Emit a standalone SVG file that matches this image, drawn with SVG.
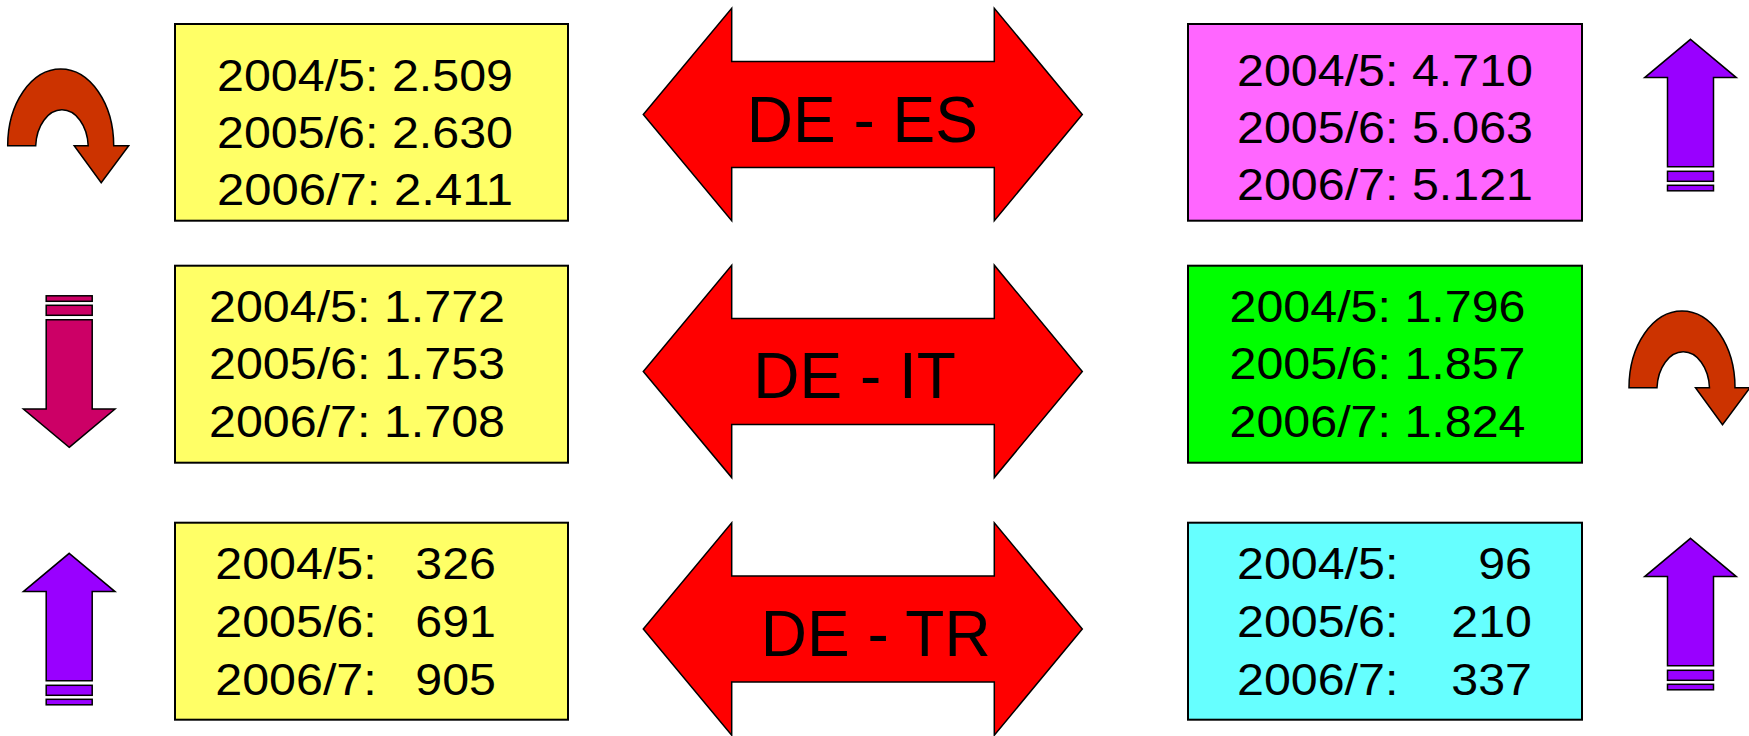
<svg xmlns="http://www.w3.org/2000/svg" xmlns:xlink="http://www.w3.org/1999/xlink" width="1749" height="736" viewBox="0 0 1749 736">
<style>
.box{stroke:#000;stroke-width:2}
.t{font-family:"Liberation Sans",Arial,sans-serif;font-size:45px;fill:#000}
.lbl{font-family:"Liberation Sans",Arial,sans-serif;font-size:64px;fill:#000}
.dbl{fill:#FF0000;stroke:#000;stroke-width:1.5;stroke-linejoin:miter}
.up{fill:#9900FF;stroke:#000;stroke-width:1.5}
.down{fill:#CC0066;stroke:#000;stroke-width:1.5}
.uturn{fill:#CC3300;stroke:#000;stroke-width:1.5}
</style>
<defs>
<path id="dblArrow" d="M0,0 L88.4,-106.2 L88.4,-53 L351,-53 L351,-106.2 L439,0 L351,106.2 L351,53 L88.4,53 L88.4,106.2 Z"/>
<g id="arrowUp">
<path d="M0,0 L45.8,38.3 L23,38.3 L23,127.5 L-23,127.5 L-23,38.3 L-45.8,38.3 Z"/>
<rect x="-23" y="132" width="46" height="10"/>
<rect x="-23" y="146" width="46" height="5.5"/>
</g>
<path id="uTurn" d="M0,0 A53,76.7 0 0 1 106,0 L121,0 L93.5,37 L66.5,0 L80.5,0 A26.3,38.2 0 0 0 28,0 Z"/>
</defs>
<rect width="1749" height="736" fill="#fff"/>

<g id="connectors">
<g id="link-de-es">
<use xlink:href="#dblArrow" class="dbl" transform="translate(643.3,114.5)"/>
<text class="lbl" x="746.7" y="141.7">DE - ES</text>
</g>
<g id="link-de-it">
<use xlink:href="#dblArrow" class="dbl" transform="translate(643.3,371.4)"/>
<text class="lbl" x="753.3" y="398.3">DE - IT</text>
</g>
<g id="link-de-tr">
<use xlink:href="#dblArrow" class="dbl" transform="translate(643.3,629)"/>
<text class="lbl" x="760.7" y="656">DE - TR</text>
</g>
</g>

<g id="trend-de-es">
<use xlink:href="#uTurn" class="uturn" transform="translate(7.7,145.7)"/>
</g>
<g id="box-de-es">
<rect class="box" x="175" y="24" width="393" height="196.7" fill="#FFFF66"/>
<text class="t" x="217" y="90.5" textLength="296" lengthAdjust="spacingAndGlyphs">2004/5: 2.509</text>
<text class="t" x="217" y="147.5" textLength="296" lengthAdjust="spacingAndGlyphs">2005/6: 2.630</text>
<text class="t" x="217" y="204.5" textLength="296" lengthAdjust="spacingAndGlyphs">2006/7: 2.411</text>
</g>

<g id="trend-de-it">
<use xlink:href="#arrowUp" class="down" transform="translate(69.2,447.3) scale(1,-1)"/>
</g>
<g id="box-de-it">
<rect class="box" x="175" y="265.7" width="393" height="197" fill="#FFFF66"/>
<text class="t" x="209" y="321.7" textLength="296" lengthAdjust="spacingAndGlyphs">2004/5: 1.772</text>
<text class="t" x="209" y="379.3" textLength="296" lengthAdjust="spacingAndGlyphs">2005/6: 1.753</text>
<text class="t" x="209" y="436.7" textLength="296" lengthAdjust="spacingAndGlyphs">2006/7: 1.708</text>
</g>

<g id="trend-de-tr">
<use xlink:href="#arrowUp" class="up" transform="translate(69.2,553.3)"/>
</g>
<g id="box-de-tr">
<rect class="box" x="175" y="522.7" width="393" height="197" fill="#FFFF66"/>
<text class="t" x="215.3" y="579.3" textLength="161.4" lengthAdjust="spacingAndGlyphs">2004/5:</text>
<text class="t" x="496" y="579.3" text-anchor="end" textLength="80.7" lengthAdjust="spacingAndGlyphs">326</text>
<text class="t" x="215.3" y="637" textLength="161.4" lengthAdjust="spacingAndGlyphs">2005/6:</text>
<text class="t" x="496" y="637" text-anchor="end" textLength="80.7" lengthAdjust="spacingAndGlyphs">691</text>
<text class="t" x="215.3" y="695" textLength="161.4" lengthAdjust="spacingAndGlyphs">2006/7:</text>
<text class="t" x="496" y="695" text-anchor="end" textLength="80.7" lengthAdjust="spacingAndGlyphs">905</text>
</g>

<g id="box-es">
<rect class="box" x="1188" y="24" width="394" height="196.7" fill="#FF66FF"/>
<text class="t" x="1237" y="85.5" textLength="296" lengthAdjust="spacingAndGlyphs">2004/5: 4.710</text>
<text class="t" x="1237" y="142.5" textLength="296" lengthAdjust="spacingAndGlyphs">2005/6: 5.063</text>
<text class="t" x="1237" y="199.5" textLength="296" lengthAdjust="spacingAndGlyphs">2006/7: 5.121</text>
</g>
<g id="trend-es">
<use xlink:href="#arrowUp" class="up" transform="translate(1690.5,39.3)"/>
</g>

<g id="box-it">
<rect class="box" x="1188" y="265.7" width="394" height="197" fill="#00FF00"/>
<text class="t" x="1229.5" y="321.7" textLength="296" lengthAdjust="spacingAndGlyphs">2004/5: 1.796</text>
<text class="t" x="1229.5" y="379.3" textLength="296" lengthAdjust="spacingAndGlyphs">2005/6: 1.857</text>
<text class="t" x="1229.5" y="436.7" textLength="296" lengthAdjust="spacingAndGlyphs">2006/7: 1.824</text>
</g>
<g id="trend-it">
<use xlink:href="#uTurn" class="uturn" transform="translate(1629,387.7)"/>
</g>

<g id="box-tr">
<rect class="box" x="1188" y="522.7" width="394" height="197" fill="#66FFFF"/>
<text class="t" x="1237" y="579.3" textLength="161.4" lengthAdjust="spacingAndGlyphs">2004/5:</text>
<text class="t" x="1532" y="579.3" text-anchor="end" textLength="53.8" lengthAdjust="spacingAndGlyphs">96</text>
<text class="t" x="1237" y="637" textLength="161.4" lengthAdjust="spacingAndGlyphs">2005/6:</text>
<text class="t" x="1532" y="637" text-anchor="end" textLength="80.7" lengthAdjust="spacingAndGlyphs">210</text>
<text class="t" x="1237" y="695" textLength="161.4" lengthAdjust="spacingAndGlyphs">2006/7:</text>
<text class="t" x="1532" y="695" text-anchor="end" textLength="80.7" lengthAdjust="spacingAndGlyphs">337</text>
</g>
<g id="trend-tr">
<use xlink:href="#arrowUp" class="up" transform="translate(1690.5,538.3)"/>
</g>
</svg>
